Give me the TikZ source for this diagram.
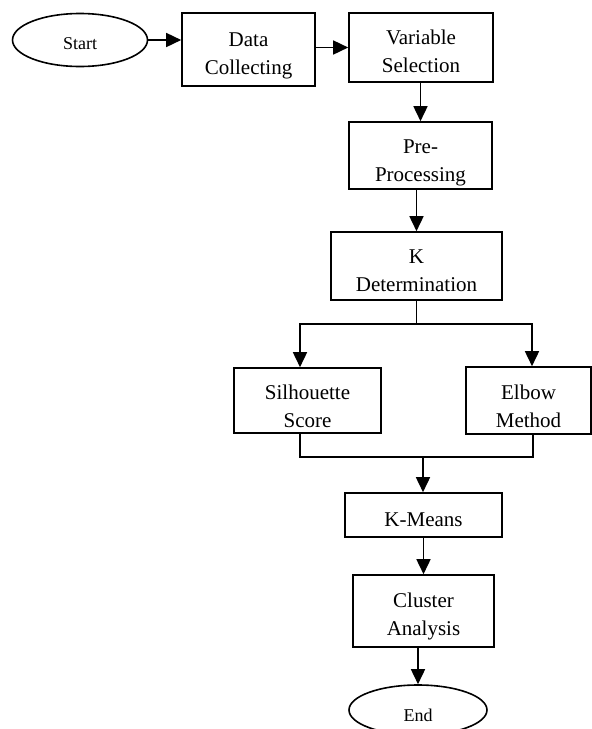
\documentclass[tikz,border=0pt]{standalone}
\usepackage{fontspec}
\setmainfont{Liberation Serif}
\usetikzlibrary{arrows.meta,shapes.geometric,calc}
\begin{document}
\begin{tikzpicture}[x=1pt,y=-1pt,
  line width=1.6pt,
  procbox/.style={draw, rectangle, inner sep=0pt},
  boxtext/.style={align=center, inner sep=0pt, font=\fontsize{21}{28}\selectfont},
  termnode/.style={draw, ellipse, inner sep=0pt},
  termtext/.style={inner sep=0pt, font=\fontsize{18}{22}\selectfont},
  flow/.style={-{Triangle[length=15pt,width=14pt]}},
  link/.style={}]
\clip (0,0) rectangle (592,729);
\fill[white] (0,0) rectangle (592,729);

\node[termnode, minimum width=135pt, minimum height=53pt,
  label={[termtext, yshift=-4pt]center:Start}] (start) at (80,40) {};
\node[procbox, minimum width=133pt, minimum height=73pt,
  label={[boxtext, yshift=-6.5pt]center:Data\\Collecting}] (data) at (248.5,49.5) {};
\node[procbox, minimum width=144pt, minimum height=69pt,
  label={[boxtext, yshift=-4pt]center:Variable\\Selection}] (var) at (421,47.5) {};
\node[procbox, minimum width=143pt, minimum height=67pt,
  label={[boxtext, yshift=-7pt]center:Pre-\\Processing}] (pre) at (420.5,155.5) {};
\node[procbox, minimum width=171pt, minimum height=68pt,
  label={[boxtext, yshift=-5pt]center:K\\Determination}] (kdet) at (416.5,266) {};
\node[procbox, minimum width=147pt, minimum height=65pt,
  label={[boxtext, yshift=-6pt]center:Silhouette\\Score}] (sil) at (307.5,400.5) {};
\node[procbox, minimum width=125pt, minimum height=67pt,
  label={[boxtext, yshift=-6pt]center:Elbow\\Method}] (elb) at (528.5,400.5) {};
\node[procbox, minimum width=157pt, minimum height=44pt,
  label={[boxtext, yshift=-5pt]center:K-Means}] (km) at (423.5,515) {};
\node[procbox, minimum width=141pt, minimum height=72pt,
  label={[boxtext, yshift=-5pt]center:Cluster\\Analysis}] (cl) at (423.5,611) {};
\node[termnode, minimum width=138pt, minimum height=50pt,
  label={[termtext, yshift=-5pt]center:End}] (end) at (418,710) {};

\coordinate (split) at (416.5,324);
\coordinate (merge) at (423,457);

\draw[flow] (start.east) -- (start.east -| data.west);
\draw[flow] (var.west -| data.east) -- (var.west);
\draw[flow] (var.south -| pre.north) -- (pre.north);
\draw[flow] (kdet.north |- pre.south) -- (kdet.north);
\draw[link] (kdet.south) -- (split);
\draw[flow] (split) -| ([xshift=-7.5pt]sil.north);
\draw[flow] (split) -| ([xshift=3.5pt]elb.north);
\draw[link] ([xshift=-7.5pt]sil.south) |- (merge);
\draw[link] ([xshift=4.5pt]elb.south) |- (merge);
\draw[flow] (merge) -- (merge |- km.north);
\draw[flow] (km.south) -- (cl.north);
\draw[flow] (end.north |- cl.south) -- (end.north);
\end{tikzpicture}
\end{document}
